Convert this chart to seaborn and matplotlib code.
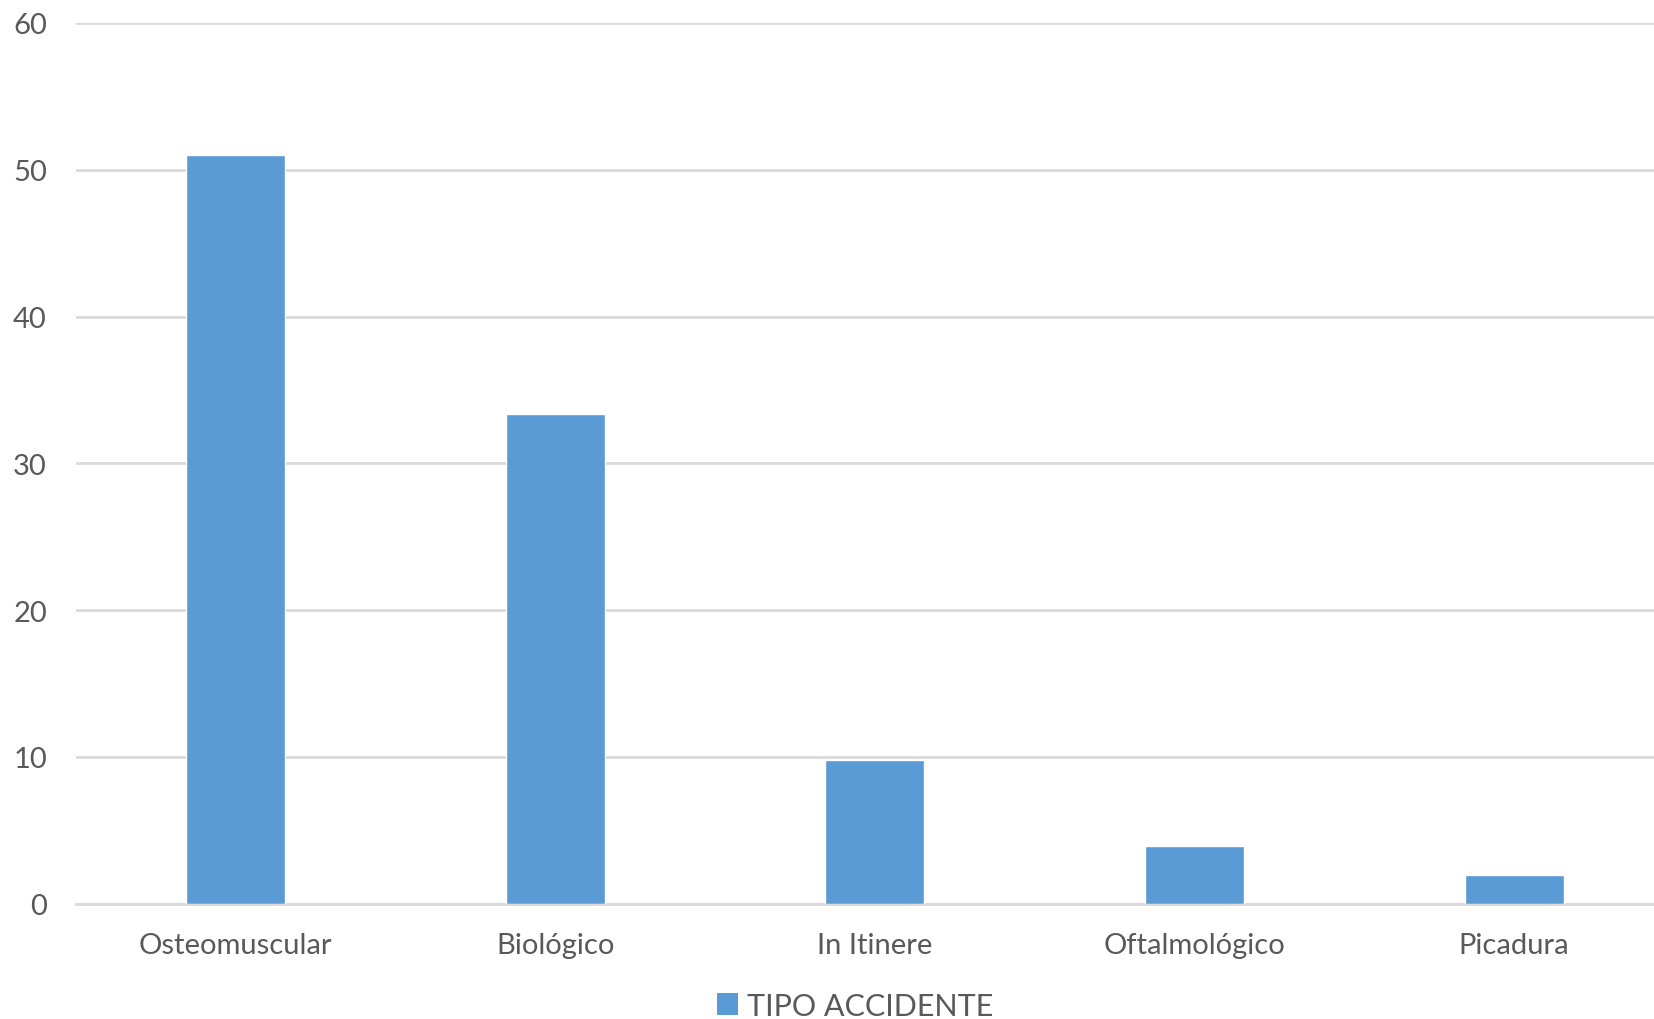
import pandas as pd
import matplotlib
matplotlib.use("Agg")
import matplotlib.pyplot as plt
import seaborn as sns
from matplotlib.patches import Patch

# ------------------------
# Data
# ------------------------
categories = ["Osteomuscular", "Biológico", "In Itinere", "Oftalmológico", "Picadura"]
values = [50.98, 33.33, 9.80, 3.92, 1.96]
y_ticks = [0, 10, 20, 30, 40, 50, 60]
series_name = "TIPO ACCIDENTE"

BAR_COLOR = "#5B9BD5"
TEXT_COLOR = "#595959"
GRID_COLOR = "#D9D9D9"

sns.set_theme(style="white")
plt.rcParams["font.family"] = ["Lato", "DejaVu Sans"]

df = pd.DataFrame({"tipo": categories, "valor": values})

fig = plt.figure(figsize=(16.54, 10.2), dpi=100)
# plot area runs a little past the right edge of the image, as in the original
ax = fig.add_axes([0.046, 0.113, 0.966, 0.8635])

sns.barplot(data=df, x="tipo", y="valor", color=BAR_COLOR, width=0.31,
            saturation=1, ax=ax, zorder=3)

ax.set_ylim(0, 60)
ax.set_xlim(-0.5, len(categories) - 0.5)
ax.set_yticks(y_ticks)
ax.yaxis.grid(True, color=GRID_COLOR, linewidth=2, zorder=0)
ax.set_axisbelow(True)
for s in ["top", "right", "left"]:
    ax.spines[s].set_visible(False)
ax.spines["bottom"].set_color(GRID_COLOR)
ax.spines["bottom"].set_linewidth(2)

ax.set_xlabel("")
ax.set_ylabel("")
ax.tick_params(axis="y", length=0, pad=21, labelsize=21, labelcolor=TEXT_COLOR)
ax.tick_params(axis="x", length=0, pad=20, labelsize=21, labelcolor=TEXT_COLOR)

handle = Patch(facecolor=BAR_COLOR, edgecolor="none")
fig.legend([handle], [series_name], loc="center", bbox_to_anchor=(0.517, 0.013),
           frameon=False, fontsize=22, labelcolor=TEXT_COLOR,
           handlelength=0.7, handleheight=0.7, handletextpad=0.3)

fig.savefig("out.png", dpi=100, facecolor="white")
